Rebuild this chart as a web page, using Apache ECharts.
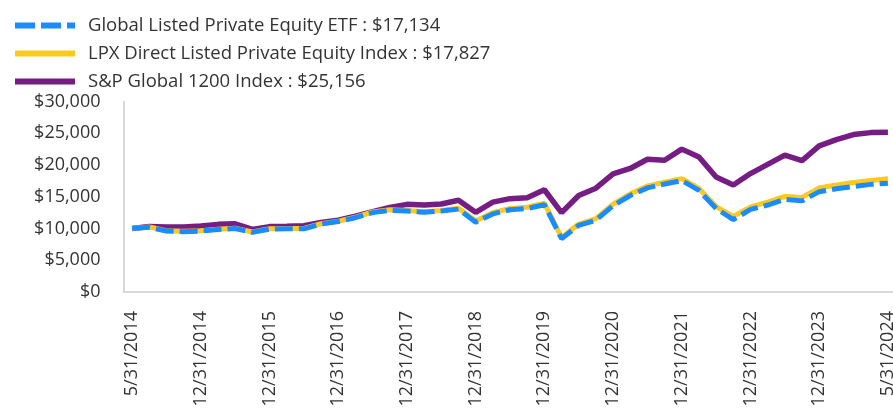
<!DOCTYPE html>
<html>
<head>
<meta charset="utf-8">
<script src="https://cdn.jsdelivr.net/npm/echarts@6/dist/echarts.min.js"></script>
<style>
html,body{margin:0;padding:0;background:#fff;}
#chart{width:893px;height:410px;}
</style>
</head>
<body>
<div id="chart"></div>
<script>
// Categories (x axis dates); labels shown every 4th category
var categories = [
  '5/31/2014','6/30/2014','8/31/2014','10/31/2014','12/31/2014',
  '3/31/2015','6/30/2015','9/30/2015','12/31/2015',
  '3/31/2016','6/30/2016','9/30/2016','12/31/2016',
  '3/31/2017','6/30/2017','9/30/2017','12/31/2017',
  '3/31/2018','6/30/2018','9/30/2018','12/31/2018',
  '3/31/2019','6/30/2019','9/30/2019','12/31/2019',
  '3/31/2020','6/30/2020','9/30/2020','12/31/2020',
  '3/31/2021','6/30/2021','9/30/2021','12/31/2021',
  '3/31/2022','6/30/2022','9/30/2022','12/31/2022',
  '3/31/2023','6/30/2023','9/30/2023','12/31/2023',
  '1/31/2024','3/31/2024','4/30/2024','5/31/2024'
];

var seriesNames = [
  'Global Listed Private Equity ETF',
  'LPX Direct Listed Private Equity Index',
  'S&P Global 1200 Index'
];

var etfValues = [
  10000,10200,9600,9500,9600,
  9850,10000,9400,9900,
  9950,9950,10700,11100,
  11700,12500,12850,12750,
  12550,12750,13050,11000,
  12300,12950,13150,13750,
  8400,10500,11300,13600,
  15200,16400,17000,17550,
  16000,13150,11400,13000,
  13700,14600,14350,15800,
  16250,16600,16950,17134
];

var lpxValues = [
  10000,10250,9650,9550,9650,
  9900,10050,9450,9950,
  10000,10000,10750,11150,
  11800,12600,12950,12850,
  12650,12850,13200,11200,
  12500,13150,13350,14000,
  8600,10700,11550,13850,
  15450,16700,17300,17850,
  16300,13450,11900,13400,
  14150,15050,14900,16400,
  16850,17250,17550,17827
];

var spValues = [
  10000,10300,10250,10250,10400,
  10650,10750,9850,10300,
  10350,10450,10950,11300,
  11950,12650,13300,13800,
  13700,13850,14450,12550,
  14150,14700,14850,16100,
  12500,15200,16350,18600,
  19450,20900,20750,22500,
  21250,18100,16850,18650,
  20100,21550,20700,23000,
  24000,24800,25100,25156
];

var yTicks = {min: 0, max: 30000, interval: 5000};

function money(v) {
  return '$' + Math.round(v).toString().replace(/\B(?=(\d{3})+(?!\d))/g, ',');
}

var allValues = [etfValues, lpxValues, spValues];
var colors = ['#1A8CFF', '#FFC91F', '#761D84'];
var fullNames = seriesNames.map(function (n, i) {
  var arr = allValues[i];
  return n + ' : ' + money(arr[arr.length - 1]);
});
var legendIcons = [
  'path://M0,0h20v6h-20z M26,0h20v6h-20z M52,0h8v6h-8z',
  'rect',
  'rect'
];

var FONT = 'Open Sans';
var chart = echarts.init(document.getElementById('chart'), null, {renderer: 'canvas'});
chart.setOption({
  animation: false,
  backgroundColor: '#ffffff',
  textStyle: {fontFamily: FONT},
  legend: {
    orient: 'vertical',
    left: 10,
    top: 11,
    itemWidth: 60,
    itemHeight: 6,
    itemGap: 9,
    textStyle: {fontFamily: FONT, fontSize: 18.5, color: '#333333', padding: [0, 0, 0, 8]},
    data: fullNames.map(function (n, i) {
      return {name: n, icon: legendIcons[i], itemStyle: {color: colors[i]}};
    })
  },
  grid: {left: 123.5, width: 773, top: 101.5, height: 190.5, containLabel: false, outerBoundsMode: 'none'},
  xAxis: {
    type: 'category',
    data: categories,
    boundaryGap: true,
    axisLine: {show: true, lineStyle: {color: '#d9d9d9', width: 2}},
    axisTick: {show: false},
    axisLabel: {
      interval: 3,
      rotate: 90,
      margin: 19,
      fontFamily: FONT,
      fontSize: 18,
      color: '#333333'
    },
    splitLine: {show: false}
  },
  yAxis: {
    type: 'value',
    min: yTicks.min,
    max: yTicks.max,
    interval: yTicks.interval,
    axisLine: {show: true, lineStyle: {color: '#d9d9d9', width: 2}},
    axisTick: {show: false},
    splitLine: {show: false},
    axisLabel: {
      margin: 23,
      fontFamily: FONT,
      fontSize: 18,
      color: '#333333',
      formatter: function (v) { return money(v); }
    }
  },
  series: [
    {
      name: fullNames[0], type: 'line', data: etfValues, symbol: 'none', z: 4,
      lineStyle: {color: colors[0], width: 5, type: [18, 6], cap: 'butt'},
      itemStyle: {color: colors[0]}
    },
    {
      name: fullNames[1], type: 'line', data: lpxValues, symbol: 'none', z: 3,
      lineStyle: {color: colors[1], width: 5},
      itemStyle: {color: colors[1]}
    },
    {
      name: fullNames[2], type: 'line', data: spValues, symbol: 'none', z: 2,
      lineStyle: {color: colors[2], width: 5.5},
      itemStyle: {color: colors[2]}
    }
  ]
});
</script>
</body>
</html>
